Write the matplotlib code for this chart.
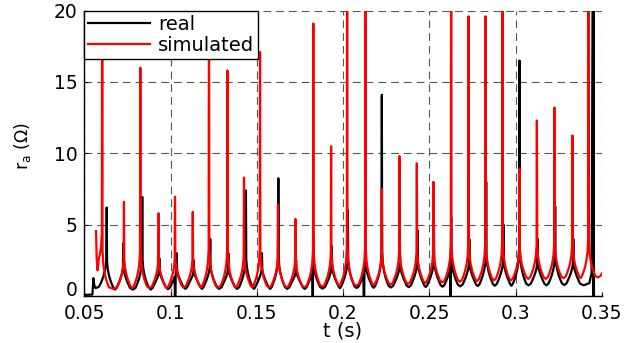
import numpy as np
import matplotlib
matplotlib.use("Agg")
import matplotlib.pyplot as plt

plt.rcParams['font.family'] = ['DejaVu Sans']
plt.rcParams['mathtext.fontset'] = 'dejavusans'

# ---------------- data ----------------
x_ticks = [0.05, 0.1, 0.15, 0.2, 0.25, 0.3, 0.35]
x_tick_labels = ['0.05', '0.1', '0.15', '0.2', '0.25', '0.3', '0.35']
y_ticks = [0, 5, 10, 15, 20]
y_tick_labels = ['0', '5', '10', '15', '20']

# simulated (red)
sim_head_t = [0.0568, 0.0572, 0.0577]
sim_head_v = [4.55, 2.6, 1.8]
sim_peak_t = [0.0604, 0.0730, 0.0825, 0.0931, 0.1026, 0.1129, 0.1223, 0.1330,
              0.1426, 0.1519, 0.1623, 0.1724, 0.1828, 0.1931, 0.2024, 0.2130,
              0.2225, 0.2327, 0.2428, 0.2524, 0.2627, 0.2728, 0.2826, 0.2925,
              0.3023, 0.3124, 0.3226, 0.3330, 0.3423]
sim_peak_v = [25, 6.6, 16.0, 5.8, 6.95, 5.9, 25, 15.8,
              8.3, 17.1, 6.4, 5.4, 19.1, 10.5, 25, 25,
              7.5, 9.8, 9.3, 8.0, 25, 19.6, 19.6, 25,
              8.9, 12.3, 13.2, 11.25, 25]
sim_valley_v = [0.5, 0.55, 0.55, 0.55, 0.6, 0.6, 0.6, 0.6,
                0.6, 0.6, 0.6, 0.6, 0.65, 0.7, 0.72, 0.75,
                0.8, 0.85, 0.9, 0.95, 1.0, 1.05, 1.1, 1.1,
                1.2, 1.2, 1.25, 1.25]
sim_tail_t = [0.3478, 0.3492, 0.3502]
sim_tail_v = [1.3, 1.4, 1.6]

# real (black)
real_head_t = [0.0500, 0.0547, 0.0553, 0.0558, 0.0565, 0.0585]
real_head_v = [0.08, 0.1, 1.25, 0.75, 0.55, 0.65]
real_peak_t = [0.0630, 0.0726, 0.0836, 0.0935, 0.1036, 0.1135, 0.1230, 0.1335,
               0.1437, 0.1530, 0.1625, 0.1728, 0.1828, 0.1935, 0.2028, 0.2130,
               0.2225, 0.2330, 0.2432, 0.2527, 0.2627, 0.2732, 0.2830, 0.2930,
               0.3023, 0.3128, 0.3230, 0.3335]
real_peak_v = [6.2, 3.7, 6.95, 2.65, 3.0, 2.5, 4.0, 3.0,
               7.4, 3.0, 8.25, 2.5, 4.3, 3.5, 6.0, 4.0,
               14.1, 3.5, 4.6, 4.85, 5.5, 4.0, 8.0, 5.0,
               16.5, 4.0, 6.3, 4.0]
real_valley_v = [0.45, 0.45, 0.45, 0.48, 0.5, 0.5, 0.5, 0.5,
                 0.5, 0.5, 0.5, 0.5, 0.52, 0.55, 0.56, 0.58,
                 0.6, 0.62, 0.63, 0.65, 0.68, 0.7, 0.72, 0.72,
                 0.75, 0.75, 0.77]
real_tail_t = [0.3395, 0.3428, 0.3441, 0.3449, 0.3451, 0.3453, 0.3455]
real_tail_v = [0.75, 0.9, 1.6, 25, -3, 25, -3]
real_dip_t = [0.1027, 0.1825, 0.2122, 0.2623]
real_dip_v = [-2, -2, -2, -2]

# spike flank shape (offset from peak in s, rise above the valley)
profile_dt = [0.0002, 0.0006, 0.0012, 0.0020, 0.0030, 0.0039]
profile_rise = [3.0, 1.9, 1.3, 0.8, 0.4, 0.12]


def build(head_t, head_v, peak_t, peak_v, valley_v, tail_t, tail_v,
          extra_t=(), extra_v=()):
    pts = list(zip(head_t, head_v)) + list(zip(tail_t, tail_v))
    n = len(peak_t)
    gen = []
    for i in range(n):
        vl = valley_v[i - 1] if i > 0 else head_v[-1]
        vr = valley_v[i] if i < n - 1 else tail_v[0]
        hl = peak_v[i] - vl
        hr = peak_v[i] - vr
        for dt, r in zip(profile_dt, profile_rise):
            gen.append((peak_t[i] - dt, vl + r * hl / (hl + r)))
            gen.append((peak_t[i] + dt, vr + r * hr / (hr + r)))
        gen.append((peak_t[i], peak_v[i]))
        if i < n - 1:
            gen.append(((peak_t[i] + peak_t[i + 1]) / 2, valley_v[i]))
    gen = [p for p in gen if head_t[-1] < p[0] < tail_t[0]]
    pts += gen
    pts += list(zip(extra_t, extra_v))
    pts.sort()
    t, v = zip(*pts)
    return np.array(t), np.array(v)


rt, rv = build(real_head_t, real_head_v, real_peak_t, real_peak_v, real_valley_v,
               real_tail_t, real_tail_v, real_dip_t, real_dip_v)
st, sv = build(sim_head_t, sim_head_v, sim_peak_t, sim_peak_v, sim_valley_v,
               sim_tail_t, sim_tail_v)

# ---------------- figure ----------------
fig = plt.figure(figsize=(6.28, 3.43), dpi=100)
ax = fig.add_axes([0.1342, 0.137, 0.824, 0.832])

ax.plot(rt, rv, color='black', lw=1.6, label='real', zorder=3)
ax.plot(st, sv, color='#ff0000', lw=1.6, label='simulated', zorder=4)

ax.set_xlim(0.05, 0.35)
ax.set_ylim(0, 20)
ax.set_xticks(x_ticks)
ax.set_xticklabels(x_tick_labels)
ax.set_yticks(y_ticks)
ax.set_yticklabels(y_tick_labels)

ax.grid(True, color='#555555', lw=0.8, linestyle=(0, (7, 4.5)))
ax.set_axisbelow(True)
for s in ['top', 'right']:
    ax.spines[s].set_visible(False)
for s in ['left', 'bottom']:
    ax.spines[s].set_linewidth(1.0)
    ax.spines[s].set_color('black')

ax.tick_params(direction='in', length=3, width=0.8, labelsize=13.5, colors='black')
ax.tick_params(axis='y', pad=5)
ax.tick_params(axis='x', pad=5.5)
ylabs = ax.get_yticklabels()
for lab in ylabs:
    lab.set_verticalalignment('center_baseline')
ylabs[0].set_verticalalignment('baseline')

ax.set_xlabel('t (s)', fontsize=14)
ax.xaxis.set_label_coords(0.5, -0.09)
ax.set_ylabel(r'r$_{\mathrm{a}}$ (Ω)', fontsize=12.5)
ax.yaxis.set_label_coords(-0.1, 0.525)

leg = ax.legend(loc='upper left', bbox_to_anchor=(0, 1), borderaxespad=0,
                fontsize=14, frameon=True, fancybox=False, framealpha=1,
                edgecolor='black', borderpad=0.2, labelspacing=0.12,
                handlelength=3.2, handletextpad=0.4)
leg.get_frame().set_linewidth(1.0)
leg.set_zorder(10)

fig.savefig('out.png', dpi=100)
